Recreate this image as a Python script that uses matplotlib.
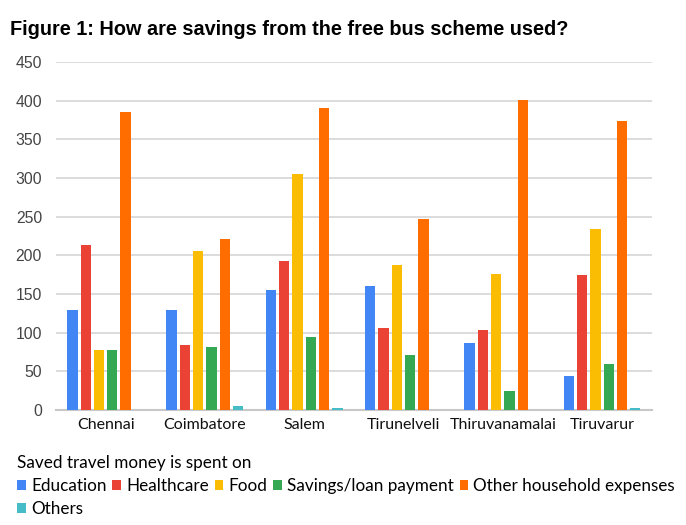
import numpy as np
import matplotlib
matplotlib.use("Agg")
from matplotlib import pyplot as plt

# data
districts = ["Chennai", "Coimbatore", "Salem", "Tirunelveli", "Thiruvanamalai", "Tiruvarur"]
education = [129, 129, 155, 160, 87, 44]
healthcare = [213, 84, 193, 106, 103, 174]
food = [77, 205, 305, 187, 176, 234]
savings = [77, 82, 95, 71, 25, 60]
household = [385, 221, 391, 247, 401, 374]
others = [0, 5, 2, 0, 0, 3]

series_names = ["Education", "Healthcare", "Food", "Savings/loan payment",
                "Other household expenses", "Others"]
colors = ["#4285F4", "#EA4335", "#FBBC04", "#34A853", "#FF6D01", "#46BDC6"]
y_ticks = [0, 50, 100, 150, 200, 250, 300, 350, 400, 450]

if __name__ == '__main__':
    fig = plt.figure(figsize=(6.86, 5.25), dpi=100)
    ax = fig.add_axes([0.0816, 0.219, 0.8684, 0.663])

    x = np.arange(len(districts))
    pitch = 0.134
    width = 0.104
    all_series = [education, healthcare, food, savings, household, others]
    bars = []
    for k, vals in enumerate(all_series):
        b = ax.bar(x + (k - 2.5) * pitch, vals, width, color=colors[k],
                   label=series_names[k], zorder=3)
        bars.append(b)

    ax.set_xlim(-0.5, len(districts) - 0.5)
    ax.set_ylim(0, 450)
    ax.set_yticks(y_ticks)
    ax.set_yticklabels([str(v) for v in y_ticks], fontsize=11.3,
                       color="#444444", family="Liberation Sans")
    ax.set_xticks(x)
    ax.set_xticklabels(districts, fontsize=11.5, family="Lato", color="#111111")
    ax.tick_params(axis="both", length=0)
    ax.tick_params(axis="y", pad=10)
    ax.tick_params(axis="x", pad=6)
    ax.grid(axis="y", color="#d9d9d9", linewidth=1.3, zorder=0)
    for s in ["top", "right", "left"]:
        ax.spines[s].set_visible(False)
    ax.spines["bottom"].set_color("#c8c8c8")
    ax.spines["bottom"].set_linewidth(1.5)

    fig.text(0.015, 0.962, "Figure 1: How are savings from the free bus scheme used?",
             fontsize=14.3, fontweight="bold", family="Liberation Sans", va="top")

    # legend is filled column by column, so reorder to get rows like the reference
    order = [0, 5, 1, 2, 3, 4]
    leg = fig.legend([bars[i] for i in order], [series_names[i] for i in order],
                     loc="upper left", bbox_to_anchor=(0.014, 0.148), ncol=5,
                     frameon=False, title="Saved travel money is spent on",
                     alignment="left", prop={"family": "Lato", "size": 12.3},
                     title_fontproperties={"family": "Lato", "size": 12.3},
                     handlelength=0.5, handleheight=0.5, handletextpad=0.3,
                     columnspacing=0.35, borderpad=0.45, labelspacing=0.42,
                     borderaxespad=0)

    plt.savefig("out.png", dpi=100)
